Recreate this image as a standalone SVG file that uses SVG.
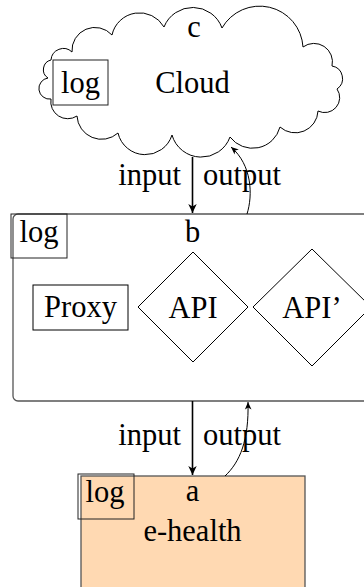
<svg xmlns="http://www.w3.org/2000/svg" width="364" height="587" viewBox="0 0 364 587">
<style>
text{font-family:"Liberation Serif","Times New Roman",serif;font-size:30.5px;fill:#000;text-anchor:middle}
.l{text-anchor:end}
.r{text-anchor:start}
.log{fill:none;stroke:#222;stroke-width:1}
.box{stroke:#555;stroke-width:1.3}
.thin{fill:none;stroke:#000;stroke-width:1}
.thick{fill:none;stroke:#000;stroke-width:1.6}
</style>
<defs>
<marker id="ah" markerUnits="userSpaceOnUse" markerWidth="12" markerHeight="12" viewBox="-11 -6 12 12" refX="0" refY="0" orient="auto">
<path d="M0,0 L-9,-4.2 L-6.5,0 L-9,4.2 Z" fill="#000"/>
</marker>
<marker id="ahs" markerUnits="userSpaceOnUse" markerWidth="10" markerHeight="10" viewBox="-9 -5 10 10" refX="0" refY="0" orient="auto">
<path d="M0,0 L-7.5,-3.3 L-5.5,0 L-7.5,3.3 Z" fill="#000"/>
</marker>
</defs>

<g id="node-c">
<path class="thin" fill="#fff" d="M72,52 A23,23 0 0 1 112,35 A28.2,28.2 0 0 1 164,27 A31,31 0 0 1 222,28 A43.4,43.4 0 0 1 303,47 A18.5,18.5 0 0 1 332,66 A12.7,12.7 0 0 1 337,89 A15,15 0 0 1 318,111 A22.8,22.8 0 0 1 280,127 A28.3,28.3 0 0 1 230,137 A30.5,30.5 0 0 1 172,135 A28,28 0 0 1 118,133 A24.6,24.6 0 0 1 77,116 A17,17 0 0 1 51,99 A9.75,9.75 0 0 1 48,78 A9.9,9.9 0 0 1 51,60 A12.4,12.4 0 0 1 72,52 Z"/>
<text x="194" y="37">c</text>
<text x="192.5" y="93">Cloud</text>
<rect class="log" x="53" y="60" width="55" height="45"/>
<text x="80.5" y="93">log</text>
</g>

<g id="node-b">
<rect class="box" fill="#fff" x="13" y="214" width="370" height="187" rx="5" ry="5"/>
<rect class="log" x="11" y="214" width="56" height="44"/>
<text x="39" y="242">log</text>
<text x="192.5" y="242">b</text>
</g>

<g id="node-proxy">
<rect class="thin" x="33" y="285" width="95" height="45"/>
<text x="80.5" y="317">Proxy</text>
</g>

<g id="node-api">
<polygon class="thin" points="193,252 248,307 193,362 138,307"/>
<text x="193" y="318">API</text>
</g>

<g id="node-api2">
<polygon class="thin" points="312,249 371,307 312,366 253,307"/>
<text x="312" y="318">API’</text>
</g>

<g id="node-a">
<rect class="box" fill="#FFD9B2" x="81" y="476" width="224" height="130"/>
<rect class="log" x="78" y="474" width="56" height="45"/>
<text x="105" y="502">log</text>
<text x="192.5" y="501">a</text>
<text x="192.5" y="541">e-health</text>
</g>

<g id="connectors">
<line class="thick" x1="192.5" y1="157" x2="192.5" y2="213" marker-end="url(#ah)"/>
<path class="thin" d="M247,214 C253,195 252,165 231,147" marker-end="url(#ahs)"/>
<text class="l" x="181" y="185">input</text>
<text class="r" x="203" y="185">output</text>
<line class="thick" x1="192.5" y1="401" x2="192.5" y2="475" marker-end="url(#ah)"/>
<path class="thin" d="M225,476 C240,462 249,440 248,402" marker-end="url(#ahs)"/>
<text class="l" x="181" y="445">input</text>
<text class="r" x="203" y="445">output</text>
</g>
</svg>
